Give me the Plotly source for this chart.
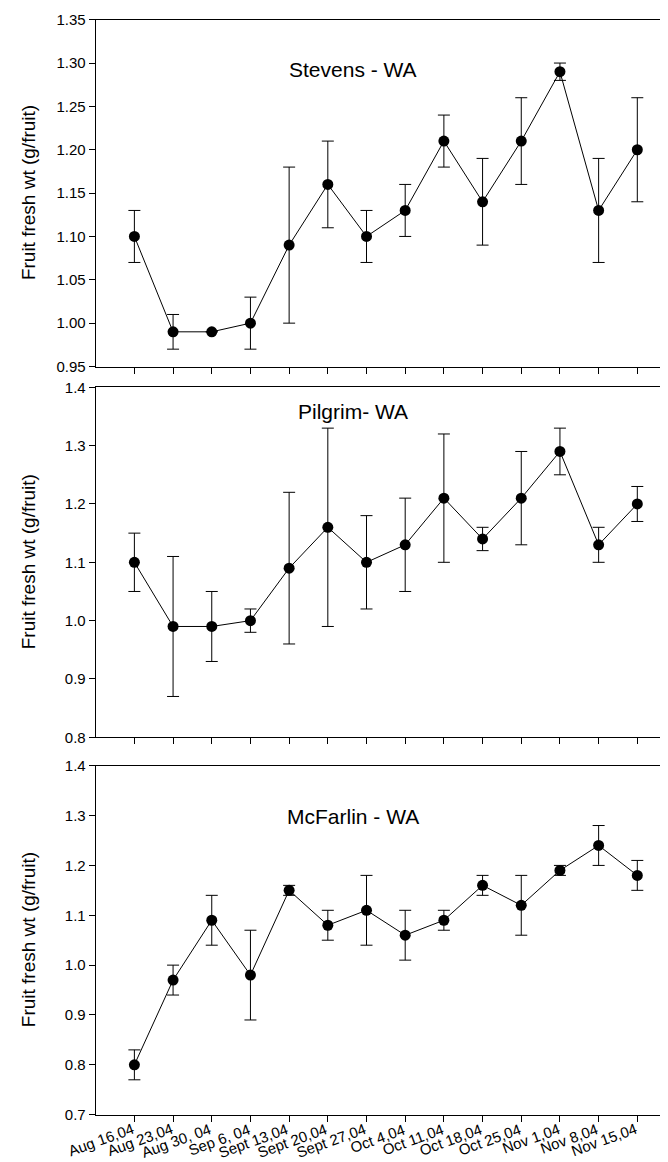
import plotly.graph_objects as go

dates = ["Aug 16,04", "Aug 23,04", "Aug 30, 04", "Sep 6, 04", "Sept 13,04", "Sept 20,04",
         "Sept 27,04", "Oct 4,04", "Oct 11,04", "Oct 18,04", "Oct 25,04", "Nov 1,04",
         "Nov 8,04", "Nov 15,04"]

stevens_vals = [1.10, 0.99, 0.99, 1.00, 1.09, 1.16, 1.10, 1.13, 1.21, 1.14, 1.21, 1.29, 1.13, 1.20]
stevens_err = [0.03, 0.02, 0.0, 0.03, 0.09, 0.05, 0.03, 0.03, 0.03, 0.05, 0.05, 0.01, 0.06, 0.06]

pilgrim_vals = [1.10, 0.99, 0.99, 1.00, 1.09, 1.16, 1.10, 1.13, 1.21, 1.14, 1.21, 1.29, 1.13, 1.20]
pilgrim_err = [0.05, 0.12, 0.06, 0.02, 0.13, 0.17, 0.08, 0.08, 0.11, 0.02, 0.08, 0.04, 0.03, 0.03]

mcfarlin_vals = [0.80, 0.97, 1.09, 0.98, 1.15, 1.08, 1.11, 1.06, 1.09, 1.16, 1.12, 1.19, 1.24, 1.18]
mcfarlin_err = [0.03, 0.03, 0.05, 0.09, 0.01, 0.03, 0.07, 0.05, 0.02, 0.02, 0.06, 0.01, 0.04, 0.03]

panel_titles = ["Stevens - WA", "Pilgrim- WA", "McFarlin - WA"]

W, H = 668, 1162
FONT = "Liberation Sans, Arial, sans-serif"
idx = list(range(len(dates)))

fig = go.Figure()

panels = [
    (stevens_vals, stevens_err, "x", "y", [0.95, 1.35], 0.05, ".2f", (11.7, 358.5), 62),
    (pilgrim_vals, pilgrim_err, "x2", "y2", [0.8, 1.4], 0.1, ".1f", (379.3, 729.3), 403),
    (mcfarlin_vals, mcfarlin_err, "x3", "y3", [0.7, 1.4], 0.1, ".1f", (757.7, 1106.7), 808),
]

for i, (vals, err, xa, ya, yr, dt, fmt, (top, bot), ty) in enumerate(panels):
    fig.add_trace(go.Scatter(
        x=idx, y=vals, xaxis=xa, yaxis=ya, mode="lines+markers",
        line=dict(color="black", width=1),
        marker=dict(color="black", size=11),
        error_y=dict(type="data", array=err, visible=True, color="black",
                     thickness=1, width=6),
        showlegend=False, cliponaxis=False,
    ))
    n = "" if i == 0 else str(i + 1)
    dom = [1 - bot / H, 1 - top / H]
    fig.layout["xaxis" + n] = dict(
        domain=[87.7 / W, 1.0], range=[-1, 14], anchor="y" + n,
        tickmode="array", tickvals=idx, showticklabels=False,
        ticks="outside", ticklen=6, tickwidth=1, tickcolor="black",
        showline=True, linecolor="black", linewidth=1, mirror=True,
        showgrid=False, zeroline=False, automargin=False,
    )
    fig.layout["yaxis" + n] = dict(
        domain=dom, range=yr, anchor="x" + n, dtick=dt, tick0=0, tickformat=fmt,
        ticks="outside", ticklen=6, tickwidth=1, tickcolor="black",
        showline=True, linecolor="black", linewidth=1,
        showgrid=False, zeroline=False, automargin=False,
        tickfont=dict(family=FONT, size=15, color="black"),
    )
    fig.add_annotation(
        text=panel_titles[i], x=345 / W, y=1 - ty / H, xref="paper", yref="paper",
        showarrow=False, font=dict(family=FONT, size=21, color="black"),
        xanchor="center", yanchor="middle",
    )
    fig.add_annotation(
        text="Fruit fresh wt (g/fruit)", x=20 / W, y=sum(dom) / 2,
        xref="paper", yref="paper", showarrow=False, textangle=-90,
        font=dict(family=FONT, size=19, color="black"),
        xanchor="center", yanchor="middle",
    )

# rotated date labels under the bottom panel
for k, lab in zip(idx, dates):
    fig.add_annotation(
        text=lab, x=k, xref="x3", y=1 - 1111 / H, yref="paper",
        showarrow=False, textangle=-20, xanchor="right", yanchor="top",
        xshift=3, borderpad=0,
        font=dict(family=FONT, size=15, color="black"),
    )

fig.update_layout(
    width=W, height=H,
    margin=dict(l=0, r=0, t=0, b=0, autoexpand=False),
    paper_bgcolor="white", plot_bgcolor="white",
    font=dict(family=FONT, color="black"),
)

fig.write_html("out.html")
